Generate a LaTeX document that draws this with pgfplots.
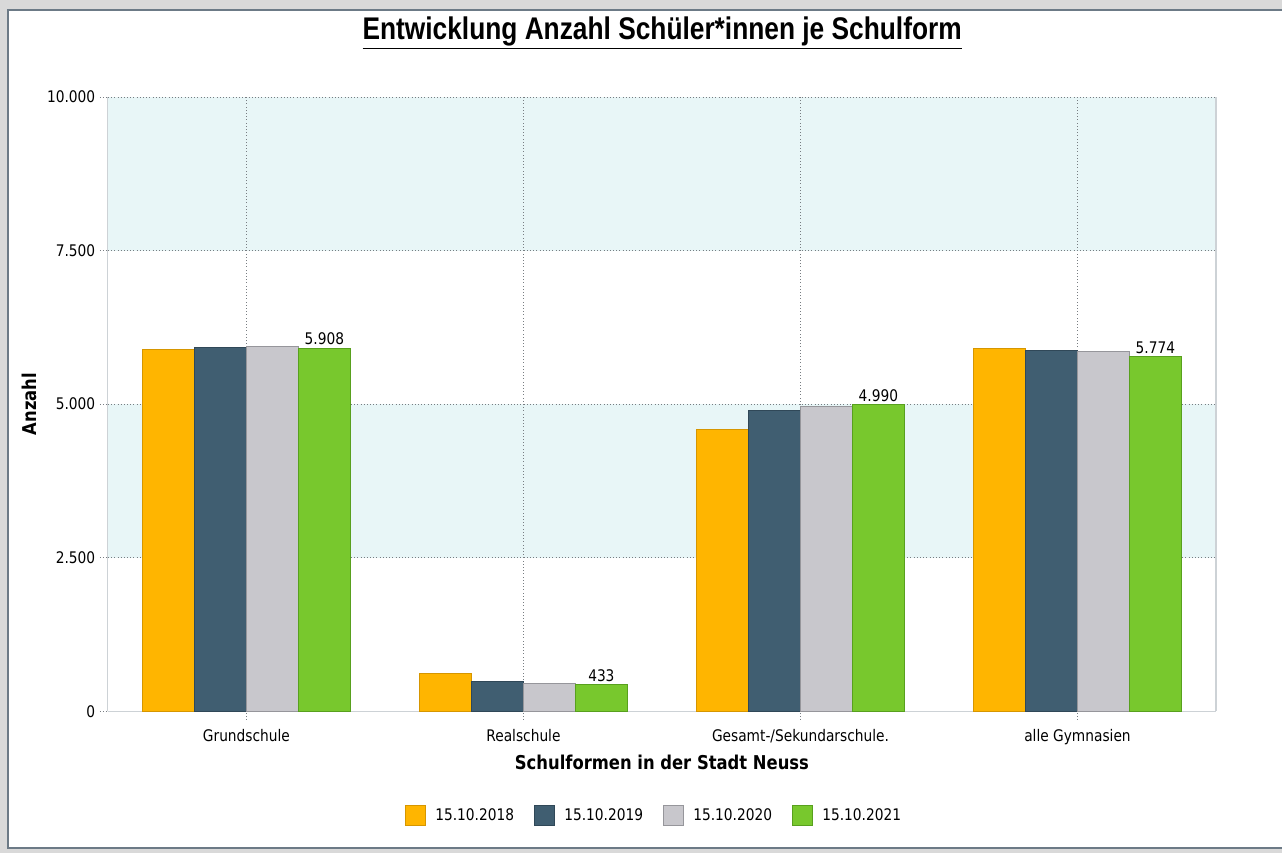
\documentclass[border=0pt]{standalone}
\usepackage{fontspec}
\setmainfont{DejaVu Sans}[FakeStretch=0.86]
\newfontfamily\titlefont{Liberation Sans}[FakeStretch=0.84]
\usepackage{pgfplots}
\pgfplotsset{compat=1.18}
\definecolor{cOr}{RGB}{255,181,0}
\definecolor{cOrL}{RGB}{214,150,0}
\definecolor{cBl}{RGB}{64,94,113}
\definecolor{cBlL}{RGB}{48,72,88}
\definecolor{cGr}{RGB}{200,199,204}
\definecolor{cGrL}{RGB}{150,150,155}
\definecolor{cGn}{RGB}{120,200,45}
\definecolor{cGnL}{RGB}{88,160,30}
\definecolor{band}{RGB}{232,246,247}
\definecolor{frameBg}{RGB}{217,217,217}
\definecolor{frameLn}{RGB}{108,122,134}
\definecolor{axLn}{RGB}{205,210,214}
\definecolor{gridC}{RGB}{120,125,130}
\begin{document}
\begin{tikzpicture}[x=1pt,y=1pt]
\fill[frameBg] (0,0) rectangle (962.25,640.5);
\fill[white] (6,3.75) rectangle (962.25,633);
\draw[frameLn, line width=1.6pt] (962.25,633) -- (6,633) -- (6,3.75) -- (962.25,3.75);
% background bands of the plot area (2.500-5.000 and 7.500-10.000)
\fill[band] (81,221.8125) rectangle (912.75,337.125);
\fill[band] (81,452.4375) rectangle (912.75,567.75);
\node[font=\titlefont\bfseries\fontsize{23.5}{28}\selectfont] at (497,615.5) {\underline{Entwicklung Anzahl Schüler*innen je Schulform}};
\begin{axis}[
  at={(81pt,106.5pt)}, anchor=south west, scale only axis,
  width=831.75pt, height=461.25pt,
  ybar=0pt, bar width=39pt,
  xmin=-0.5, xmax=3.5, ymin=0, ymax=10000,
  xtick={0,1,2,3},
  xticklabels={Grundschule, Realschule, Gesamt-/Sekundarschule., alle Gymnasien},
  ytick={0,2500,5000,7500,10000},
  scaled y ticks=false,
  axis x line*=bottom, axis y line*=box,
  axis line style={draw=axLn, line width=0.8pt},
  xtick pos=bottom, ytick pos=left,
  grid=major,
  major grid style={dotted, gridC, line width=0.6pt},
  tick style={dotted, gridC, line width=0.6pt},
  major tick length=6pt, tick align=outside,
  /pgf/number format/assume math mode=true,
  /pgf/number format/1000 sep={.},
  ticklabel style={font=\fontsize{12}{14}\selectfont},
  xticklabel style={yshift=-4pt},
  label style={font=\bfseries\fontsize{14.3}{17}\selectfont},
  xlabel={Schulformen in der Stadt Neuss},
  ylabel={Anzahl},
  xlabel style={at={(axis description cs:0.5,-0.0829)}, anchor=center},
  ylabel style={at={(axis description cs:-0.0712,0.5)}, anchor=center},
  legend style={at={(0.4932,-0.169)}, anchor=center, draw=none, fill=none,
    legend columns=4, font=\fontsize{12}{14}\selectfont,
    /tikz/every odd column/.append style={column sep=5pt},
    /tikz/every even column/.append style={column sep=13pt}},
  legend image code/.code={\draw[#1] (0pt,-7.5pt) rectangle (15pt,7.5pt);},
]
\addplot[fill=cOr, draw=cOrL, line width=0.75pt] coordinates {(0,5892) (1,612) (2,4592) (3,5908)};
\addplot[fill=cBl, draw=cBlL, line width=0.75pt] coordinates {(0,5918) (1,487) (2,4894) (3,5869)};
\addplot[fill=cGr, draw=cGrL, line width=0.75pt] coordinates {(0,5941) (1,460) (2,4960) (3,5860)};
\addplot[fill=cGn, draw=cGnL, line width=0.75pt,
  nodes near coords, nodes near coords style={font=\fontsize{12}{14}\selectfont, inner sep=2pt}]
  coordinates {(0,5908) (1,433) (2,4990) (3,5774)};
\legend{15.10.2018, 15.10.2019, 15.10.2020, 15.10.2021}
\end{axis}
\end{tikzpicture}
\end{document}
